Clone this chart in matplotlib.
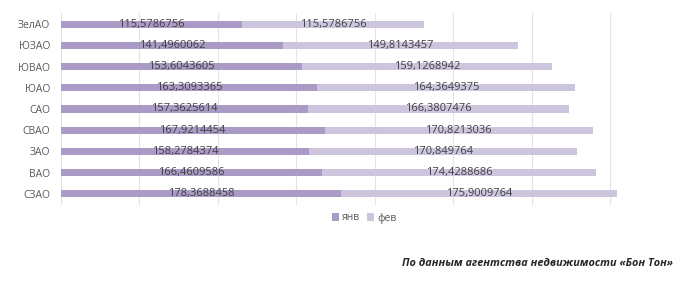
import matplotlib
matplotlib.use("Agg")
import matplotlib.pyplot as plt
import numpy as np

# --- данные (сверху вниз) ---
okruga = ["ЗелАО", "ЮЗАО", "ЮВАО", "ЮАО", "САО", "СВАО", "ЗАО", "ВАО", "СЗАО"]
yanv = [115.5786756, 141.4960062, 153.6043605, 163.3093365, 157.3625614,
        167.9214454, 158.2784374, 166.4609586, 178.3688458]
fev = [115.5786756, 149.8143457, 159.1268942, 164.3649375, 166.3807476,
       170.8213036, 170.849764, 174.4288686, 175.9009764]
yanv_lbl = ["115,5786756", "141,4960062", "153,6043605", "163,3093365", "157,3625614",
            "167,9214454", "158,2784374", "166,4609586", "178,3688458"]
fev_lbl = ["115,5786756", "149,8143457", "159,1268942", "164,3649375", "166,3807476",
           "170,8213036", "170,849764", "174,4288686", "175,9009764"]

c_yanv = "#a99bc5"
c_fev = "#cdc4de"
txt = "#404040"

plt.rcParams['font.family'] = ['Open Sans', 'DejaVu Sans']

fig = plt.figure(figsize=(6.8, 2.81), dpi=100)
ax = fig.add_axes([61 / 680, 1 - 204.6 / 281, (673 - 61) / 680, (204.6 - 13.4) / 281])

y = np.arange(len(okruga))
h = 0.33
b1 = ax.barh(y, yanv, height=h, color=c_yanv, label="янв", zorder=2)
b2 = ax.barh(y, fev, left=yanv, height=h, color=c_fev, label="фев", zorder=2)

# подписи значений по центру сегментов
for i in range(len(okruga)):
    ax.text(yanv[i] / 2, y[i], yanv_lbl[i], ha="center", va="center",
            fontsize=8, color=txt, zorder=3)
    ax.text(yanv[i] + fev[i] / 2, y[i], fev_lbl[i], ha="center", va="center",
            fontsize=8, color=txt, zorder=3)

ax.set_xlim(0, 390)
ax.set_ylim(len(okruga) - 0.5, -0.5)
ax.set_xticks(np.arange(0, 351, 50))
ax.set_xticklabels([])
ax.set_yticks(y)
ax.set_yticklabels(okruga, fontsize=7.5, color="#595959")
ax.tick_params(length=0, pad=8)
ax.grid(axis="x", color="#e3e3e3", linewidth=0.8, zorder=0)
for s in ax.spines.values():
    s.set_visible(False)

fig.legend(handles=[b1, b2], loc="center", bbox_to_anchor=(364 / 680, 1 - 218 / 281),
           ncol=2, frameon=False, fontsize=7.5, labelcolor="#595959",
           handlelength=0.7, handleheight=0.7, handletextpad=0.3, columnspacing=0.6)

fig.text(673 / 680, 1 - 263 / 281, "По данным агентства недвижимости «Бон Тон»",
         ha="right", va="center", fontsize=7.8, style="italic", weight="bold",
         color="#262626")

fig.savefig("out.png", dpi=100)
